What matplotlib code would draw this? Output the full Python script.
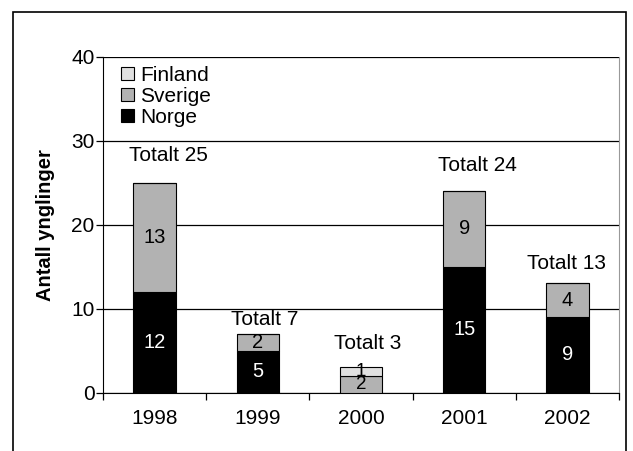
import matplotlib
matplotlib.use("Agg")
import matplotlib.pyplot as plt
from matplotlib.patches import Rectangle, Patch
import numpy as np

plt.rcParams['font.family'] = ['Liberation Sans', 'DejaVu Sans']

years = ["1998", "1999", "2000", "2001", "2002"]
norge = [12, 5, 0, 15, 9]
sverige = [13, 2, 2, 9, 4]
finland = [0, 0, 1, 0, 0]
totals = [25, 7, 3, 24, 13]

# layout: pixel offsets of the "Totalt" labels from the bar top centre
total_label_dx = [14, 7, 7, 13, -1]
total_label_dy = [27, 14, 24, 26, 20]

c_norge = "#000000"
c_sverige = "#b2b2b2"
c_finland = "#e0e0e0"

W, H = 633, 451
fig = plt.figure(figsize=(W / 100, H / 100), dpi=100)
L, R, T, B = 103, 619, 57, 392.5
ax = fig.add_axes([L / W, 1 - B / H, (R - L) / W, (B - T) / H])

x = np.arange(len(years))
w = 0.41
n = np.array(norge); s = np.array(sverige); f = np.array(finland)
ax.bar(x, n, w, color=c_norge, edgecolor="black", linewidth=0.8, zorder=3)
ax.bar(x, s, w, bottom=n, color=c_sverige, edgecolor="black", linewidth=0.8, zorder=3)
ax.bar(x, f, w, bottom=n + s, color=c_finland, edgecolor="black", linewidth=0.8, zorder=3)

fs = 15
for i in range(len(years)):
    small = (n[i] + s[i] + f[i]) < 5
    lfs = 13.5 if small else 14.5
    if n[i] > 0:
        ax.text(x[i], n[i] / 2, str(n[i]), ha="center", va="center", color="white", fontsize=lfs, zorder=4)
    if s[i] > 0:
        ax.text(x[i], n[i] + s[i] / 2, str(s[i]), ha="center", va="center", color="black", fontsize=lfs, zorder=4)
    if f[i] > 0:
        ax.text(x[i], n[i] + s[i] + f[i] / 2, str(f[i]), ha="center", va="center", color="black", fontsize=lfs, zorder=4)
    ax.annotate("Totalt %d" % totals[i], xy=(x[i], totals[i]),
                xytext=(total_label_dx[i], total_label_dy[i]), textcoords="offset pixels",
                ha="center", va="center", fontsize=fs, zorder=4)

ax.set_xlim(-0.5, len(years) - 0.5)
ax.set_ylim(0, 40)
ax.set_yticks([0, 10, 20, 30, 40])
ax.set_yticklabels(["0", "10", "20", "30", "40"], fontsize=fs)
ax.yaxis.grid(True, color="black", linewidth=0.9, zorder=1)
ax.set_axisbelow(True)

ax.set_xticks(x)
ax.set_xticklabels(years, fontsize=fs)
ax.tick_params(axis="x", length=0, pad=12)
ax.set_xticks(np.arange(-0.5, len(years), 1.0), minor=True)
ax.tick_params(axis="x", which="minor", length=5, width=0.9, direction="out")
ax.tick_params(axis="y", length=5, width=0.9, direction="out", pad=1)

ax.spines["top"].set_visible(False)
ax.spines["right"].set_color("#999999")
ax.spines["left"].set_color("black")
ax.spines["bottom"].set_color("black")

ax.set_ylabel("Antall ynglinger", fontsize=14.5, fontweight="bold", labelpad=12)

handles = [Patch(facecolor=c_finland, edgecolor="black", linewidth=0.8, label="Finland"),
           Patch(facecolor=c_sverige, edgecolor="black", linewidth=0.8, label="Sverige"),
           Patch(facecolor=c_norge, edgecolor="black", linewidth=0.8, label="Norge")]
ax.legend(handles=handles, loc="upper left", frameon=False, fontsize=fs,
          handlelength=0.6, handleheight=0.6, handletextpad=0.3, labelspacing=0.1,
          borderaxespad=0.0, borderpad=0.0, bbox_to_anchor=(18 / (R - L), 1 - 9 / (B - T)))

fig.patches.append(Rectangle((13 / W, -0.1), (626 - 13) / W, 1.1 - 12 / H, transform=fig.transFigure,
                             fill=False, edgecolor="black", linewidth=1.2))

fig.savefig("out.png", dpi=100)
